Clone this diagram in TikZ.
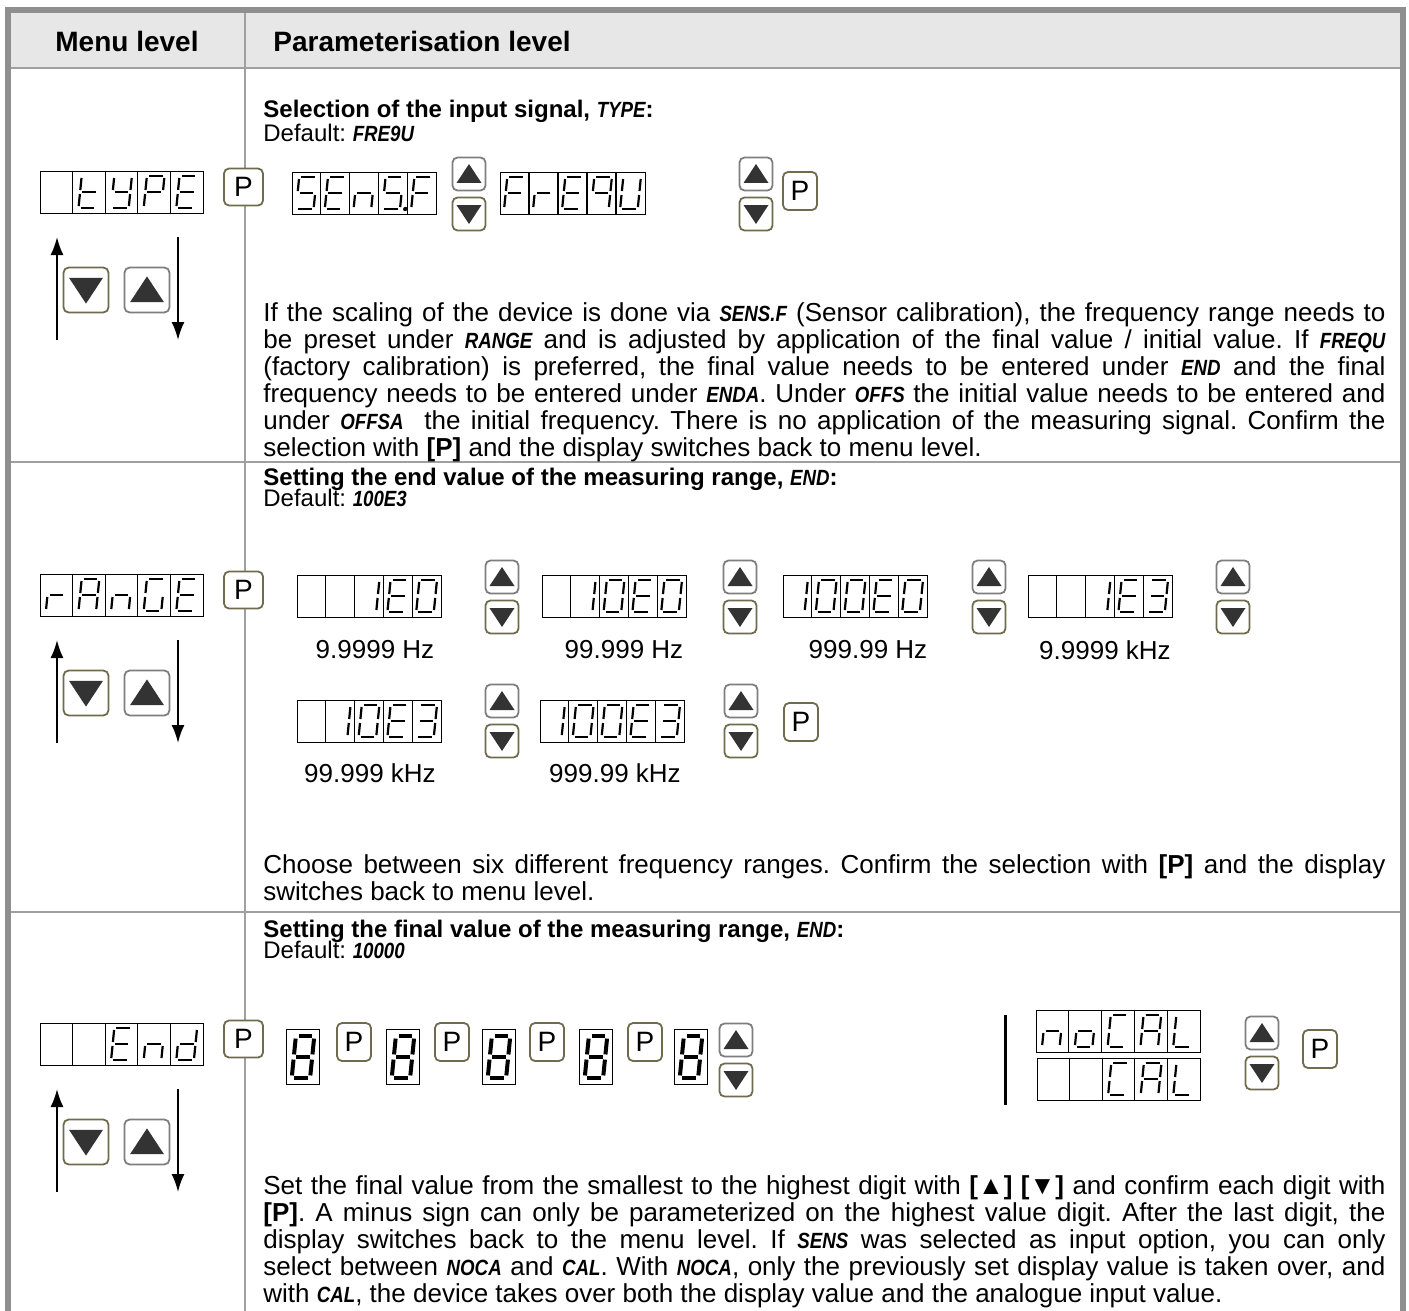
\documentclass[tikz,border=0pt]{standalone}
\usepackage{fontspec}
\setmainfont{Liberation Sans}
\newfontfamily\dspfont{Liberation Sans}[FakeStretch=0.85]
\usetikzlibrary{arrows.meta}
\frenchspacing

\definecolor{framegray}{HTML}{8F8F8F}
\definecolor{rulegray}{HTML}{A0A0A0}
\definecolor{headfill}{HTML}{E7E7E7}
\definecolor{keyolive}{HTML}{6F6B4D}
\definecolor{keygray}{HTML}{7E7E7E}
\definecolor{tridark}{HTML}{333333}

\tikzset{
  seg/.style={line width=1.1pt, shorten <=1pt, shorten >=1pt},
  dispbox/.style={draw, line width=0.6pt, inner sep=0pt, anchor=north west},
  key/.style={draw=keyolive, line width=0.9pt, rounded corners=2.5pt, fill=white, inner sep=0pt},
  pkey/.style={key, minimum width=17pt, minimum height=19pt, font=\fontsize{14}{14}\selectfont},
  body/.style={text width=561pt, align=justify, inner sep=0pt, anchor=north west, font=\fontsize{13}{13.5}\selectfont},
  ttl/.style={anchor=base west, inner sep=0pt, font=\bfseries\fontsize{12}{13.5}\selectfont},
  dflt/.style={anchor=base west, inner sep=0pt, font=\fontsize{12}{13.5}\selectfont},
  lbl/.style={inner sep=0pt, font=\fontsize{13}{13.5}\selectfont},
  updn/.style={line width=1pt, -{Latex[length=9pt, width=6.5pt]}},
}

% Schriftzeichen der Anzeige
\newcommand{\dsp}[1]{{\dspfont\bfseries\itshape\fontsize{11}{13.5}\selectfont #1}}

% Segmente (lokal: x und y von -1 bis 1)
\newcommand{\segA}{\draw[seg] (-1,-1) -- (1,-1);}
\newcommand{\segB}{\draw[seg] (1,-1) -- (1,0);}
\newcommand{\segC}{\draw[seg] (1,0) -- (1,1);}
\newcommand{\segD}{\draw[seg] (-1,1) -- (1,1);}
\newcommand{\segE}{\draw[seg] (-1,0) -- (-1,1);}
\newcommand{\segF}{\draw[seg] (-1,-1) -- (-1,0);}
\newcommand{\segG}{\draw[seg] (-1,0) -- (1,0);}
\newcommand{\segP}{\fill (1.6,1) circle (1.1pt);}

\newcommand{\defglyph}[2]{\expandafter\def\csname gl-#1\endcsname{#2}}
\defglyph{t}{\segD\segE\segF\segG}
\defglyph{Y}{\segB\segC\segD\segF\segG}
\defglyph{P}{\segA\segB\segE\segF\segG}
\defglyph{E}{\segA\segD\segE\segF\segG}
\defglyph{S}{\segA\segC\segD\segF\segG}
\defglyph{S.}{\segA\segC\segD\segF\segG\segP}
\defglyph{n}{\segC\segE\segG}
\defglyph{F}{\segA\segE\segF\segG}
\defglyph{r}{\segE\segG}
\defglyph{9}{\segA\segB\segC\segF\segG}
\defglyph{U}{\segB\segC\segD\segE\segF}
\defglyph{A}{\segA\segB\segC\segE\segF\segG}
\defglyph{G}{\segA\segC\segD\segE\segF}
\defglyph{1}{\segB\segC}
\defglyph{0}{\segA\segB\segC\segD\segE\segF}
\defglyph{3}{\segA\segB\segC\segD\segG}
\defglyph{d}{\segB\segC\segD\segE\segG}
\defglyph{8}{\segA\segB\segC\segD\segE\segF\segG}
\defglyph{o}{\segC\segD\segE\segG}
\defglyph{C}{\segA\segD\segE\segF}
\defglyph{L}{\segD\segE\segF}

% #1 Name, #2 x, #3 y (oben links), #4 Zellbreite, #5 Zeichen
\newcommand{\segdisplay}[5]{%
  \node[dispbox, minimum width=#4*2.5pt, minimum height=21pt] (#1) at (#2,#3) {};
  \foreach \g [count=\i] in {#5} {%
    \ifnum\i<5
      \draw[line width=0.6pt] ([xshift=\i*#4*0.5pt]#1.north west) -- ([xshift=\i*#4*0.5pt]#1.south west);
    \fi
    \begin{scope}[shift={(#2+\i*#4-0.5*#4,#3+21)}, x=4.4pt, y=-8pt, xslant=0.1]
      \csname gl-\g\endcsname
    \end{scope}
  }}

% einzelne Stelle
\newcommand{\bigdigit}[3]{%
  \node[draw, line width=0.6pt, inner sep=0pt, minimum width=16.5pt, minimum height=27.5pt] (#1) at (#2,#3) {};
  \begin{scope}[shift={(#2,#3)}, x=4.6pt, y=-10.5pt, xslant=0.1,
      seg/.style={line width=2pt, shorten <=1.3pt, shorten >=1.3pt}]
    \csname gl-8\endcsname
  \end{scope}}

% Tasten: #1 Faktor, #2 Name, #3 x, #4 y
\newcommand{\upkey}[4][1]{%
  \node[key, draw=keygray, minimum size=#1*16.5pt] (#2) at (#3,#4) {};
  \fill[tridark] ([shift={(-12.5*#1,9*#1)}]#2.center) -- ([shift={(12.5*#1,9*#1)}]#2.center)
    -- ([shift={(0,-10*#1)}]#2.center) -- cycle;}
\newcommand{\dnkey}[4][1]{%
  \node[key, minimum size=#1*16.5pt] (#2) at (#3,#4) {};
  \fill[tridark] ([shift={(-12.5*#1,-9*#1)}]#2.center) -- ([shift={(12.5*#1,-9*#1)}]#2.center)
    -- ([shift={(0,10*#1)}]#2.center) -- cycle;}
\newcommand{\updown}[3]{\upkey{#1Up}{#2}{#3-20}\dnkey{#1Dn}{#2}{#3+20}}

% linke Spalte
\newcommand{\menublock}[2]{%
  \segdisplay{#1Disp}{40}{171}{32.6}{#2}
  \node[pkey, minimum width=19.5pt, minimum height=18.5pt] (#1P) at (243.5,187) {P};
  \coordinate (#1UpS) at (57,340); \coordinate (#1UpE) at (57,237);
  \coordinate (#1DnS) at (178,237); \coordinate (#1DnE) at (178,340);
  \draw[updn] (#1UpS) -- (#1UpE);
  \draw[updn] (#1DnS) -- (#1DnE);
  \dnkey[1.36]{#1KeyDn}{86}{290}
  \upkey[1.36]{#1KeyUp}{147}{290}}

\begin{document}
\begin{tikzpicture}[x=0.5pt, y=-0.5pt]
    \useasboundingbox (0,0) rectangle (1409,1311);

    % Tabelle
    \fill[headfill] (11,13) rectangle (1400,67);
    \draw[rulegray, line width=1.4pt] (11,68) -- (1400,68);
    \draw[rulegray, line width=1.4pt] (11,462) -- (1400,462);
    \draw[rulegray, line width=1.4pt] (11,912) -- (1400,912);
    \draw[rulegray, line width=1.4pt] (245,13) -- (245,1311);
    \draw[framegray, line width=3.2pt] (8,1311) -- (8,10) -- (1403,10) -- (1403,1311);

    \node[font=\bfseries\fontsize{14}{16}\selectfont] (hdMenu) at (127,41) {Menu level};
    \node[anchor=west, inner sep=0pt, font=\bfseries\fontsize{14}{16}\selectfont] (hdPar) at (273,41) {Parameterisation level};

    % Menue
    \begin{scope}
        \menublock{ty}{-,t,Y,P,E}
    \end{scope}
    \begin{scope}[shift={(0,403)}]
        \menublock{ra}{r,A,n,G,E}
    \end{scope}
    \begin{scope}[shift={(0,852)}]
        \menublock{en}{-,-,E,n,d}
    \end{scope}

    % Eingangssignal
    \node[ttl] (ttlType) at (263,118) {Selection of the input signal, \dsp{TYPE}:};
    \node[dflt] (defType) at (263,141) {Default: \dsp{FRE9U}};
    \segdisplay{dSens}{292}{172}{28.8}{S,E,n,S.,F}
    \updown{kSens}{469}{194}
    \segdisplay{dFreq}{500}{172}{29}{F,r,E,9,U}
    \updown{kFreq}{756}{194}
    \node[pkey] (pType) at (800,191) {P};
    \node[body] (txType) at (263,302) {\strut If the scaling of the device is done via \dsp{SENS.F} (Sensor calibration), the frequency range needs to\linebreak
      be preset under \dsp{RANGE} and is adjusted by application of the final value / initial value. If \dsp{FREQU}\linebreak
      (factory calibration) is preferred, the final value needs to be entered under \dsp{END} and the final\linebreak
      frequency needs to be entered under \dsp{ENDA}. Under \dsp{OFFS} the initial value needs to be entered and\linebreak
      under \dsp{OFFSA}\ \ the initial frequency. There is no application of the measuring signal. Confirm the\linebreak
      selection with \textbf{[P]} and the display switches back to menu level.};

    % Messbereich
    \node[ttl] (ttlRange) at (263,485) {Setting the end value of the measuring range, \dsp{END}:};
    \node[dflt] (defRange) at (263,506) {Default: \dsp{100E3}};
    \segdisplay{r1}{297}{575}{28.8}{-,-,1,E,0}
    \updown{k1}{502}{597}
    \segdisplay{r2}{542}{575}{28.8}{-,1,0,E,0}
    \updown{k2}{740}{597}
    \segdisplay{r3}{783}{575}{28.8}{1,0,0,E,0}
    \updown{k3}{989}{597}
    \segdisplay{r4}{1028}{575}{28.8}{-,-,1,E,3}
    \updown{k4}{1233}{597}
    \node[lbl] (l1) at (375,650) {9.9999 Hz};
    \node[lbl] (l2) at (624,650) {99.999 Hz};
    \node[lbl] (l3) at (868,650) {999.99 Hz};
    \node[lbl] (l4) at (1105,650) {9.9999 kHz};
    \segdisplay{r5}{297}{700}{28.8}{-,1,0,E,3}
    \updown{k5}{502}{721}
    \segdisplay{r6}{540}{700}{28.8}{1,0,0,E,3}
    \updown{k6}{741}{721}
    \node[pkey] (pRange) at (801,722) {P};
    \node[lbl] (l5) at (370,773) {99.999 kHz};
    \node[lbl] (l6) at (615,773) {999.99 kHz};
    \node[body] (txRange) at (263,854) {\strut Choose between six different frequency ranges. Confirm the selection with \textbf{[P]} and the display\linebreak
      switches back to menu level.};

    % Endwert
    \node[ttl] (ttlEnd) at (263,937) {Setting the final value of the measuring range, \dsp{END}:};
    \node[dflt] (defEnd) at (263,958) {Default: \dsp{10000}};
    \bigdigit{dg1}{303}{1057}
    \node[pkey] (p1) at (354,1042) {P};
    \bigdigit{dg2}{403}{1057}
    \node[pkey] (p2) at (452,1042) {P};
    \bigdigit{dg3}{499}{1057}
    \node[pkey] (p3) at (547,1042) {P};
    \bigdigit{dg4}{596}{1057}
    \node[pkey] (p4) at (645,1042) {P};
    \bigdigit{dg5}{691}{1057}
    \updown{kDig}{736}{1060}
    \coordinate (barT) at (1005,1015);
    \coordinate (barB) at (1005,1105);
    \draw[line width=1.5pt] (barT) -- (barB);
    \segdisplay{dNoCal}{1036}{1010}{32.8}{n,o,C,A,L}
    \segdisplay{dCal}{1037}{1058}{32.6}{-,-,C,A,L}
    \updown{kCal}{1262}{1053}
    \node[pkey] (pCal) at (1320,1049) {P};
    \node[body] (txEnd) at (263,1175) {\strut Set the final value from the smallest to the highest digit with \textbf{[▲] [▼]} and confirm each digit with\linebreak
      \textbf{[P]}. A minus sign can only be parameterized on the highest value digit. After the last digit, the\linebreak
      display switches back to the menu level. If \dsp{SENS} was selected as input option, you can only\linebreak
      select between \dsp{NOCA} and \dsp{CAL}. With \dsp{NOCA}, only the previously set display value is taken over, and\linebreak
      with \dsp{CAL}, the device takes over both the display value and the analogue input value.};
\end{tikzpicture}
\end{document}
